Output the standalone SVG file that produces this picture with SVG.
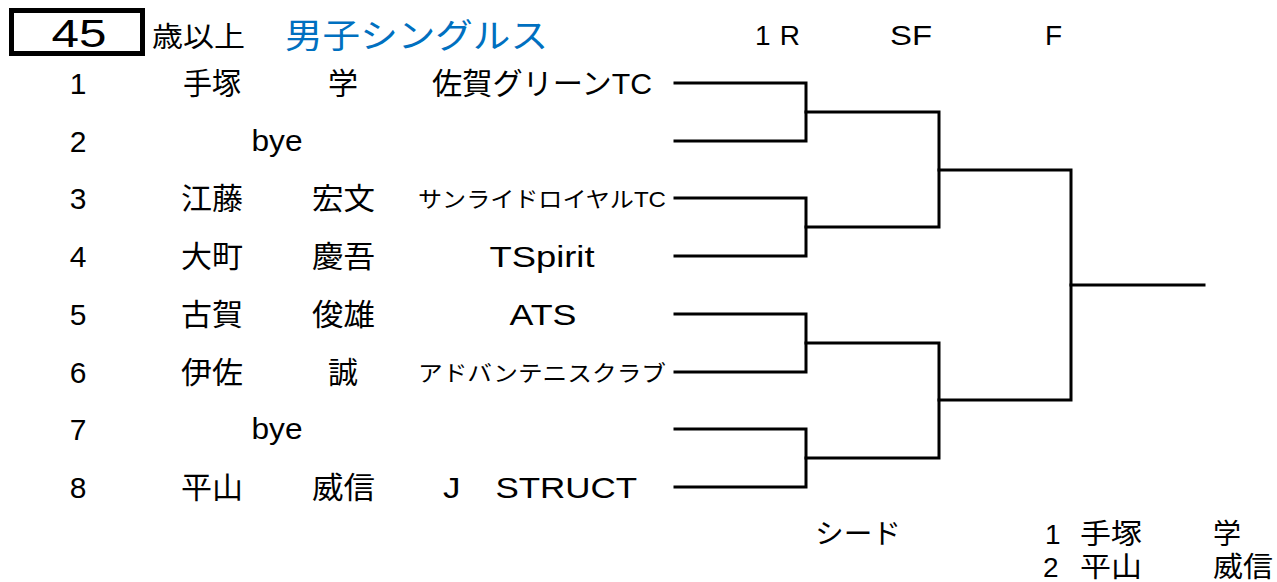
<svg xmlns="http://www.w3.org/2000/svg" width="1277" height="582" viewBox="0 0 1277 582">
<style>
text{font-family:"Liberation Sans","Noto Sans CJK JP",sans-serif;fill:#000;}
.n{font-size:30px;text-anchor:middle;}
.nm{font-size:30px;text-anchor:middle;}
.cl{font-size:30px;text-anchor:middle;}
.cs{font-size:22px;text-anchor:middle;}
.hd{font-size:28px;}
.ln{fill:none;stroke:#000;stroke-width:3;stroke-linecap:square;}
</style>
<g id="title">
<rect x="11.5" y="10.5" width="131" height="43" fill="#fff" stroke="#000" stroke-width="5"/>
<text x="79" y="47" style="font-size:39px;text-anchor:middle" textLength="55" lengthAdjust="spacingAndGlyphs">45</text>
<text x="152" y="47" style="font-size:28px" textLength="93" lengthAdjust="spacingAndGlyphs">歳以上</text>
<text x="285" y="48" style="font-size:34px;fill:#0070C0" textLength="263" lengthAdjust="spacingAndGlyphs">男子シングルス</text>
</g>
<g id="headers">
<text class="hd" x="755" y="45" textLength="45" lengthAdjust="spacing">1R</text>
<text class="hd" x="890" y="45" textLength="42" lengthAdjust="spacingAndGlyphs">SF</text>
<text class="hd" x="1045" y="45">F</text>
</g>
<g id="p1">
<text class="n" x="78" y="94">1</text>
<text class="nm" x="212" y="94" textLength="58" lengthAdjust="spacingAndGlyphs">手塚</text>
<text class="nm" x="343" y="94">学</text>
<text class="cl" x="542" y="94" textLength="220" lengthAdjust="spacingAndGlyphs">佐賀グリーンTC</text>
</g>
<g id="p2">
<text class="n" x="78" y="152">2</text>
<text class="nm" x="277" y="151" textLength="51" lengthAdjust="spacingAndGlyphs">bye</text>
</g>
<g id="p3">
<text class="n" x="78" y="209">3</text>
<text class="nm" x="212" y="209" textLength="62" lengthAdjust="spacingAndGlyphs">江藤</text>
<text class="nm" x="343.5" y="209" textLength="63" lengthAdjust="spacingAndGlyphs">宏文</text>
<text class="cs" x="542" y="207" textLength="248" lengthAdjust="spacingAndGlyphs">サンライドロイヤルTC</text>
</g>
<g id="p4">
<text class="n" x="78" y="267">4</text>
<text class="nm" x="212" y="267" textLength="62" lengthAdjust="spacingAndGlyphs">大町</text>
<text class="nm" x="343.5" y="267" textLength="63" lengthAdjust="spacingAndGlyphs">慶吾</text>
<text class="cl" x="542" y="267" textLength="105" lengthAdjust="spacingAndGlyphs">TSpirit</text>
</g>
<g id="p5">
<text class="n" x="78" y="325">5</text>
<text class="nm" x="212" y="325" textLength="62" lengthAdjust="spacingAndGlyphs">古賀</text>
<text class="nm" x="343.5" y="325" textLength="63" lengthAdjust="spacingAndGlyphs">俊雄</text>
<text class="cl" x="543" y="325" textLength="67" lengthAdjust="spacingAndGlyphs">ATS</text>
</g>
<g id="p6">
<text class="n" x="78" y="383">6</text>
<text class="nm" x="212" y="383" textLength="62" lengthAdjust="spacingAndGlyphs">伊佐</text>
<text class="nm" x="343" y="383">誠</text>
<text class="cs" x="542" y="381" textLength="248" lengthAdjust="spacingAndGlyphs">アドバンテニスクラブ</text>
</g>
<g id="p7">
<text class="n" x="78" y="440">7</text>
<text class="nm" x="277" y="439" textLength="51" lengthAdjust="spacingAndGlyphs">bye</text>
</g>
<g id="p8">
<text class="n" x="78" y="498">8</text>
<text class="nm" x="212" y="498" textLength="62" lengthAdjust="spacingAndGlyphs">平山</text>
<text class="nm" x="343.5" y="498" textLength="63" lengthAdjust="spacingAndGlyphs">威信</text>
<text class="cl" x="540" y="498" textLength="194" lengthAdjust="spacingAndGlyphs">J　STRUCT</text>
</g>
<g id="connectors">
<path class="ln" d="M675 83H806V141H675M675 198H806V256H675M675 314H806V372H675M675 429H806V487H675"/>
<path class="ln" d="M806 112H939V227H806M806 343H939V458H806"/>
<path class="ln" d="M939 170H1071V400H939"/>
<path class="ln" d="M1071 285H1204"/>
</g>
<g id="seeds">
<text class="hd" x="815" y="544" textLength="86" lengthAdjust="spacingAndGlyphs">シード</text>
<text class="hd" x="1045" y="544">1</text>
<text class="hd" x="1080" y="544" textLength="62" lengthAdjust="spacingAndGlyphs">手塚</text>
<text class="hd" x="1213" y="544">学</text>
<text class="hd" x="1043" y="577">2</text>
<text class="hd" x="1080" y="577" textLength="62" lengthAdjust="spacingAndGlyphs">平山</text>
<text class="hd" x="1213" y="577" textLength="60" lengthAdjust="spacingAndGlyphs">威信</text>
</g>
</svg>
